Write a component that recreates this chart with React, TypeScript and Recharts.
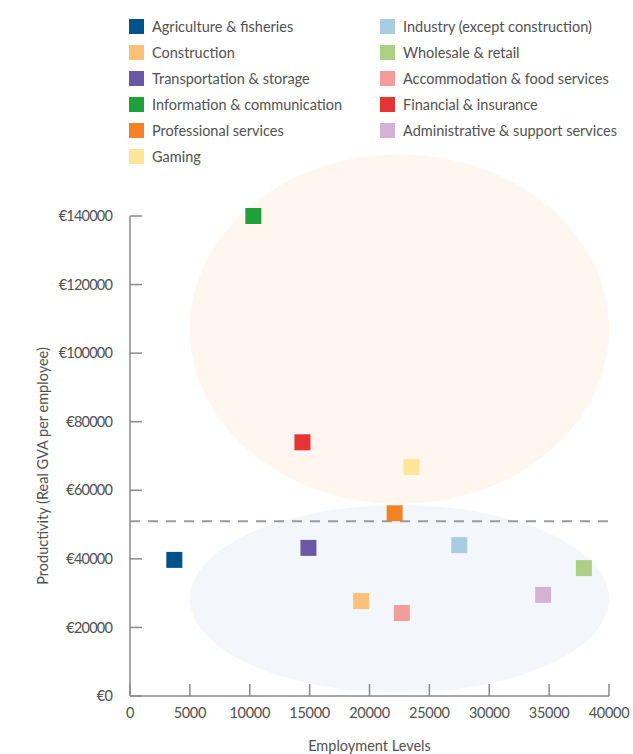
import React from "react"
import {
  ScatterChart,
  Scatter,
  XAxis,
  YAxis,
  ReferenceLine,
  ReferenceArea,
  Cell,
  Label,
} from "recharts"

// sectors in legend order (two columns, row by row)
const sectors = [
  "Agriculture & fisheries",
  "Industry (except construction)",
  "Construction",
  "Wholesale & retail",
  "Transportation & storage",
  "Accommodation & food services",
  "Information & communication",
  "Financial & insurance",
  "Professional services",
  "Administrative & support services",
  "Gaming",
]
const employment = [3700, 27500, 19300, 37900, 14900, 22700, 10300, 14400, 22100, 34500, 23500]
const productivity = [39700, 44000, 27700, 37300, 43200, 24200, 140000, 74000, 53300, 29500, 66800]
const colors = [
  "#00538a",
  "#a6cde0",
  "#fbc079",
  "#acd086",
  "#6b58a4",
  "#f39d9b",
  "#1fa03a",
  "#e63434",
  "#f28228",
  "#d3b2d6",
  "#ffe699",
]

const xTicks = [0, 5000, 10000, 15000, 20000, 25000, 30000, 35000, 40000]
const yTicks = [0, 20000, 40000, 60000, 80000, 100000, 120000, 140000]
const averageProductivity = 51000

// shaded groups: [x1, x2, y1, y2]
const highGroup = [5000, 40000, 56000, 158000]
const lowGroup = [5000, 40000, 1000, 55700]

const data = sectors.map((name, i) => ({
  name,
  x: employment[i],
  y: productivity[i],
}))

const FONT = "Lato, 'Open Sans', sans-serif"
const TEXT = "#515151"

const Ellipse = (fill) => (props) => {
  const { x, y, width, height } = props
  return (
    <ellipse
      cx={x + width / 2}
      cy={y + height / 2}
      rx={Math.abs(width) / 2}
      ry={Math.abs(height) / 2}
      fill={fill}
    />
  )
}

const Square = (props) => {
  const { cx, cy, fill } = props
  return <rect x={cx - 8} y={cy - 8} width={16} height={16} fill={fill} />
}

function LegendBox() {
  return (
    <div
      style={{
        position: "absolute",
        left: 129,
        top: 13,
        display: "grid",
        gridTemplateColumns: "251px auto",
        gridAutoRows: "26px",
        fontFamily: FONT,
        fontSize: 14.5,
        color: TEXT,
      }}
    >
      {sectors.map((s, i) => (
        <div key={s} style={{ display: "flex", alignItems: "center", whiteSpace: "nowrap" }}>
          <span
            style={{
              display: "inline-block",
              width: 15,
              height: 15,
              background: colors[i],
              marginRight: 8,
            }}
          />
          {s}
        </div>
      ))}
    </div>
  )
}

export default function App() {
  return (
    <div style={{ position: "relative", width: 633, height: 754, background: "#fff" }}>
      <style>{`body{margin:0}`}</style>
      <LegendBox />
      <ScatterChart width={633} height={754} margin={{ top: 216, right: 24, bottom: 0, left: 0 }}>
        <ReferenceArea
          x1={highGroup[0]}
          x2={highGroup[1]}
          y1={highGroup[2]}
          y2={highGroup[3]}
          ifOverflow="visible"
          shape={Ellipse("#fef6ef")}
        />
        <ReferenceArea
          x1={lowGroup[0]}
          x2={lowGroup[1]}
          y1={lowGroup[2]}
          y2={lowGroup[3]}
          ifOverflow="visible"
          shape={Ellipse("#f3f7fb")}
        />
        <XAxis
          type="number"
          dataKey="x"
          domain={[0, 40000]}
          ticks={xTicks}
          height={58}
          stroke="#8a8a8a"
          strokeWidth={1.5}
          tickSize={-12}
          tickMargin={24}
          tick={{ fill: TEXT, fontSize: 14.5, fontFamily: FONT, letterSpacing: -0.3 }}
          interval={0}
        >
          <Label
            content={({ viewBox }) => (
              <text
                x={viewBox.x + viewBox.width / 2}
                y={viewBox.y + 55}
                textAnchor="middle"
                fill={TEXT}
                fontSize={14.5}
                fontFamily={FONT}
              >
                Employment Levels
              </text>
            )}
          />
        </XAxis>
        <YAxis
          type="number"
          dataKey="y"
          domain={[0, 140000]}
          ticks={yTicks}
          width={130}
          stroke="#8a8a8a"
          strokeWidth={1.5}
          tickSize={-12}
          tickMargin={30}
          tickFormatter={(v) => `€${v}`}
          tick={{ fill: TEXT, fontSize: 14.5, fontFamily: FONT, letterSpacing: -0.8 }}
          interval={0}
        >
          <Label
            content={({ viewBox }) => {
              const cx = viewBox.x + 42
              const cy = viewBox.y + viewBox.height / 2 + 10
              return (
                <text
                  x={cx}
                  y={cy}
                  transform={`rotate(-90 ${cx} ${cy})`}
                  textAnchor="middle"
                  dominantBaseline="central"
                  fill={TEXT}
                  fontSize={14.5}
                  fontFamily={FONT}
                >
                  Productivity  (Real GVA per employee)
                </text>
              )
            }}
          />
        </YAxis>
        <ReferenceLine
          y={averageProductivity}
          stroke="#9a9a9a"
          strokeWidth={2}
          strokeDasharray="10 8"
        />
        <Scatter data={data} shape={Square} isAnimationActive={false}>
          {data.map((d, i) => (
            <Cell key={d.name} fill={colors[i]} />
          ))}
        </Scatter>
      </ScatterChart>
    </div>
  )
}
